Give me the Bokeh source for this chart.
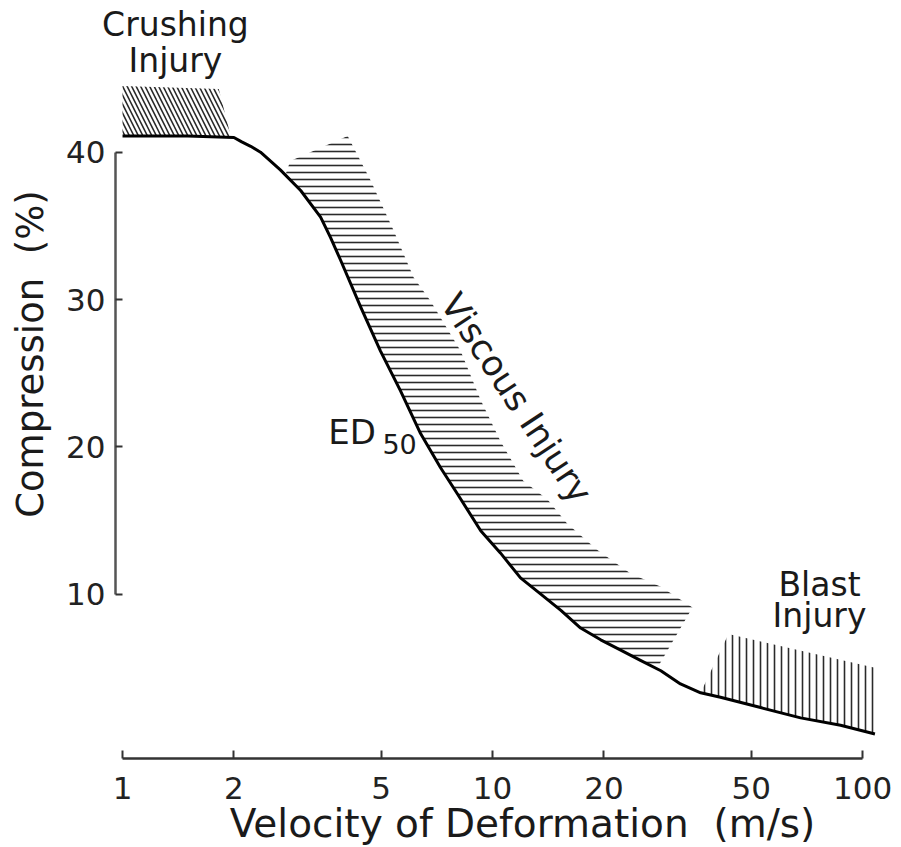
import numpy as np
from bokeh.plotting import figure
from bokeh.models import Range1d, FixedTicker, Label
from bokeh.embed import file_html
from bokeh.resources import INLINE

# ED50 curve: compression (%) vs velocity of deformation (m/s)
velocity = [1.0, 1.5, 2.0, 2.1, 2.22, 2.36, 2.67, 3.03, 3.43, 3.65, 3.88, 4.40, 4.98, 5.64,
            6.39, 7.23, 8.04, 9.29, 10.5, 11.9, 13.5, 15.3, 17.3, 19.6, 22.2, 25.1, 28.5,
            32.2, 36.5, 41.3, 53.0, 68.0, 87.2, 108.0]
compression = [41.1, 41.1, 41.0, 40.7, 40.4, 40.0, 38.8, 37.4, 35.6, 34.2, 32.7, 29.5, 26.5,
               23.8, 20.9, 18.6, 16.8, 14.3, 12.8, 11.1, 10.0, 8.9, 7.7, 6.9, 6.2, 5.5, 4.8,
               3.9, 3.3, 3.0, 2.3, 1.6, 1.1, 0.5]

# upper edges of the hatched injury zones (the lower edge is the curve)
crush_x = [1.0, 1.82, 1.96]
crush_y = [44.5, 44.3, 41.1]
visc_x = [2.76, 2.84, 4.06, 4.68, 5.40, 6.12, 6.80, 8.20, 9.28, 10.5, 12.1, 14.1,
          15.9, 19.2, 23.6, 28.5, 34.7, 27.9]
visc_y = [38.5, 39.4, 41.1, 38.1, 34.7, 31.5, 29.9, 26.5, 23.2, 20.4, 17.7, 16.4,
          14.8, 13.0, 11.4, 10.5, 9.1, 5.0]
blast_x = [36.5, 43.4, 108.0, 108.0]
blast_y = [3.3, 7.3, 5.0, 0.5]

x_ticks = [1, 2, 5, 10, 20, 50, 100]
x_tick_labels = ["1", "2", "5", "10", "20", "50", "100"]
y_ticks = [10, 20, 30, 40]

FONT = "DejaVu Sans"
NBSP = "\u00a0"

p = figure(width=901, height=847, x_axis_type="log",
           x_range=Range1d(0.468, 127.4), y_range=Range1d(-7.2, 50.3),
           output_backend="svg", toolbar_location=None,
           min_border_left=0, min_border_right=0, min_border_top=0,
           min_border_bottom=0)
p.outline_line_color = None
p.xgrid.grid_line_color = None
p.ygrid.grid_line_color = None
p.background_fill_color = "white"


def band(tx, ty):
    lo, hi = tx[0], tx[-1]
    cx = [v for v in velocity if lo <= v <= hi]
    cy = [c for v, c in zip(velocity, compression) if lo <= v <= hi]
    return list(tx) + cx[::-1], list(ty) + cy[::-1]


for tx, ty, pat, sc in [(crush_x, crush_y, "\\", 9),
                        (visc_x, visc_y, "-", 7),
                        (blast_x, blast_y, "|", 7)]:
    bx, by = band(tx, ty)
    p.patch(bx, by, fill_color=None, line_color=None, hatch_pattern=pat,
            hatch_color="#2a2a2a", hatch_scale=sc, hatch_weight=1.6)

p.line(velocity, compression, line_width=3, color="black", line_join="round")

# axes, drawn at fixed data positions inside the frame
xa = p.xaxis[0]
xa.fixed_location = -1.15
xa.ticker = FixedTicker(ticks=x_ticks)
xa.major_label_overrides = {t: s for t, s in zip(x_ticks, x_tick_labels)}
xa.bounds = (1, 100)
xa.minor_tick_line_color = None
xa.major_tick_in = 8
xa.major_tick_out = 0
xa.axis_line_width = 2.5
xa.axis_line_color = "#333333"
xa.major_tick_line_width = 2
xa.major_tick_line_color = "#333333"
xa.major_label_text_font = FONT
xa.major_label_text_font_size = "31px"
xa.major_label_text_color = "#222222"
xa.major_label_standoff = 19

ya = p.yaxis[0]
ya.fixed_location = 0.957
ya.ticker = FixedTicker(ticks=y_ticks)
ya.bounds = (10, 40)
ya.minor_tick_line_color = None
ya.major_tick_in = 7
ya.major_tick_out = 0
ya.axis_line_width = 2.5
ya.axis_line_color = "#555555"
ya.major_tick_line_width = 2
ya.major_tick_line_color = "#333333"
ya.major_label_text_font = FONT
ya.major_label_text_font_size = "31px"
ya.major_label_text_color = "#222222"
ya.major_label_standoff = 10


def lab(x, y, text, size="33px", angle=0.0, align="center", baseline="alphabetic"):
    p.add_layout(Label(x=x, y=y, text=text, text_font=FONT, text_font_size=size,
                       text_color="#1a1a1a", angle=angle, text_align=align,
                       text_baseline=baseline))


lab(1.39, 48.7, "Crushing")
lab(1.39, 46.2, "Injury")
lab(76.5, 10.65, "Blast")
lab(76.5, 8.55, "Injury")
lab(11.6, 23.3, "Viscous Injury", size="35px", angle=-0.985, baseline="middle")
lab(3.60, 21.0, "ED", size="34px", align="left")
lab(5.04, 20.2, "50", size="27px", align="left")
lab(12.05, -5.6, "Velocity of Deformation" + NBSP + " (m/s)", size="39px")
lab(0.564, 26.3, "Compression" + NBSP + " (%)", size="37px", angle=np.pi / 2)

open("out.html", "w").write(file_html(p, INLINE))
